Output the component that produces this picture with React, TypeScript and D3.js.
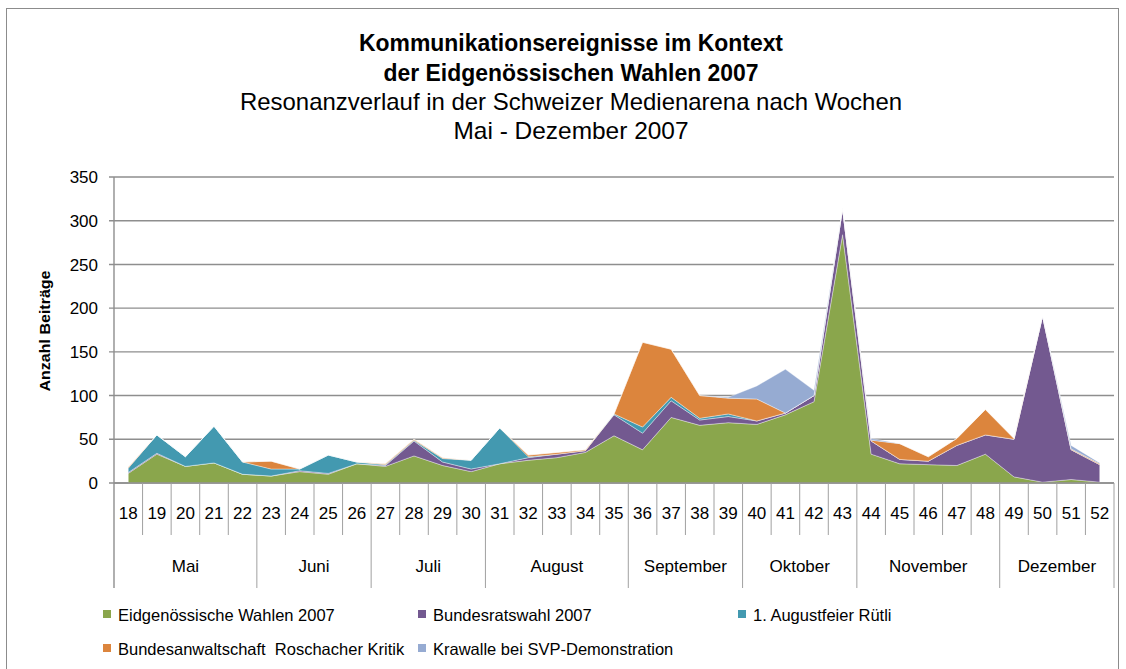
import React, { useEffect, useRef } from 'react';
import * as d3 from 'd3';

// Kalenderwochen 18-52
const weeks = [
  "18", "19", "20", "21", "22", "23", "24", "25", "26", "27", "28", "29",
  "30", "31", "32", "33", "34", "35", "36", "37", "38", "39", "40", "41",
  "42", "43", "44", "45", "46", "47", "48", "49", "50", "51", "52"
];
const monthNames = ["Mai", "Juni", "Juli", "August", "September", "Oktober", "November", "Dezember"];
const monthFirstWeek = ["18", "23", "27", "31", "36", "40", "44", "49"];
const monthLastWeek = ["22", "26", "30", "35", "39", "43", "48", "52"];

// values per week (stacked bottom to top)
const eidgWahlen = [11, 33, 19, 23, 10, 8, 13, 10, 22, 19, 31, 20, 13, 22, 26, 29, 35, 54, 38, 75, 66, 69, 67, 78, 93, 284, 33, 22, 21, 20, 33, 7, 1, 4, 1];
const bundesratswahl = [1, 1, 0, 0, 0, 0, 1, 1, 0, 1, 17, 4, 3, 0, 3, 4, 2, 24, 19, 19, 6, 7, 4, 2, 7, 30, 15, 5, 4, 23, 22, 43, 190, 34, 20];
const augustfeier = [5, 21, 11, 42, 14, 8, 2, 21, 2, 1, 1, 4, 10, 41, 1, 0, 0, 1, 7, 4, 2, 3, 0, 0, 0, 0, 0, 0, 0, 0, 0, 0, 0, 0, 0];
const bundesanwaltschaft = [1, 0, 0, 0, 0, 9, 0, 0, 0, 1, 1, 1, 0, 0, 2, 2, 1, 0, 97, 55, 26, 18, 25, 0, 0, 0, 1, 18, 5, 8, 29, 1, 0, 1, 1];
const krawalle = [0, 0, 0, 0, 0, 0, 0, 0, 0, 0, 0, 0, 0, 0, 0, 0, 0, 0, 0, 0, 0, 1, 15, 50, 6, 0, 2, 0, 0, 0, 0, 0, 0, 4, 1];

const seriesNames = [
  "Eidgenössische Wahlen 2007",
  "Bundesratswahl 2007",
  "1. Augustfeier Rütli",
  "Bundesanwaltschaft  Roschacher Kritik",
  "Krawalle bei SVP-Demonstration"
];
const seriesColors = ["#8aa64c", "#735990", "#4399b0", "#dc853d", "#96abd2"];
const yTicks = [0, 50, 100, 150, 200, 250, 300, 350];

export default function App() {
  const svgRef = useRef<SVGSVGElement>(null);

  useEffect(() => {
    if (!svgRef.current) return;
    const svg = d3.select(svgRef.current);
    svg.selectAll('*').remove();

    const left = 114, right = 1114, top = 177, bottom = 483;
    const weekRowBottom = 535, monthRowBottom = 588;
    const font = '"Liberation Sans", Arial, sans-serif';
    const narrow = '"Liberation Sans Narrow", "Liberation Sans", Arial, sans-serif';

    const x = d3.scaleBand<string>().domain(weeks).range([left, right]).padding(0);
    const cx = (w: string) => (x(w) as number) + x.bandwidth() / 2;
    const y = d3.scaleLinear().domain([0, 350]).range([bottom, top]);

    // outer frame
    svg.append("rect")
      .attr("x", 6.5).attr("y", 8.5)
      .attr("width", 1112).attr("height", 700)
      .attr("fill", "#ffffff")
      .attr("stroke", "#8c8c8c")
      .attr("stroke-width", 1);

    // titles
    const titles = [
      { text: "Kommunikationsereignisse im Kontext", y: 51, bold: true, len: 424 },
      { text: "der Eidgenössischen Wahlen 2007", y: 81, bold: true, len: 375 },
      { text: "Resonanzverlauf in der Schweizer Medienarena nach Wochen", y: 110, bold: false, len: 662 },
      { text: "Mai - Dezember 2007", y: 139, bold: false, len: 235 }
    ];
    titles.forEach(t => {
      svg.append("text")
        .attr("x", 571).attr("y", t.y)
        .attr("text-anchor", "middle")
        .attr("font-family", narrow)
        .attr("font-size", 24)
        .attr("font-weight", t.bold ? "bold" : "normal")
        .attr("textLength", t.len)
        .attr("lengthAdjust", "spacingAndGlyphs")
        .attr("fill", "#000")
        .text(t.text);
    });

    // gridlines + y ticks
    yTicks.forEach(t => {
      svg.append("line")
        .attr("x1", left - 5).attr("x2", right)
        .attr("y1", y(t)).attr("y2", y(t))
        .attr("stroke", "#8e8e8e")
        .attr("stroke-width", 1.4);
      svg.append("text")
        .attr("x", 98).attr("y", y(t))
        .attr("dy", "0.36em")
        .attr("text-anchor", "end")
        .attr("font-family", font)
        .attr("font-size", 17)
        .attr("fill", "#000")
        .text(t);
    });

    // y axis title
    svg.append("text")
      .attr("transform", "translate(50,331) rotate(-90)")
      .attr("text-anchor", "middle")
      .attr("font-family", narrow)
      .attr("font-size", 15.5)
      .attr("font-weight", "bold")
      .attr("textLength", 121)
      .attr("lengthAdjust", "spacingAndGlyphs")
      .text("Anzahl Beiträge");

    // stacked areas
    const rows = weeks.map((w, i) => ({
      week: w,
      s0: eidgWahlen[i],
      s1: bundesratswahl[i],
      s2: augustfeier[i],
      s3: bundesanwaltschaft[i],
      s4: krawalle[i]
    }));
    const keys = ["s0", "s1", "s2", "s3", "s4"];
    const stacked = d3.stack<any>().keys(keys)(rows);

    const area = d3.area<any>()
      .x(d => cx(d.data.week))
      .y0(d => y(d[0]))
      .y1(d => y(d[1]));

    stacked.forEach((s, i) => {
      svg.append("path")
        .datum(s)
        .attr("d", area as any)
        .attr("fill", seriesColors[i])
        .attr("stroke", "#ffffff")
        .attr("stroke-opacity", 0.45)
        .attr("stroke-width", 0.8)
        .attr("stroke-linejoin", "round");
    });

    // category axis: x line, y line
    svg.append("line")
      .attr("x1", left).attr("x2", right)
      .attr("y1", bottom).attr("y2", bottom)
      .attr("stroke", "#8e8e8e").attr("stroke-width", 1.4);
    svg.append("line")
      .attr("x1", left).attr("x2", left)
      .attr("y1", top).attr("y2", monthRowBottom)
      .attr("stroke", "#8e8e8e").attr("stroke-width", 1.4);

    // week separators and labels
    weeks.forEach((w, i) => {
      const isMonthEnd = monthLastWeek.includes(w);
      const xr = (x(w) as number) + x.bandwidth();
      svg.append("line")
        .attr("x1", xr).attr("x2", xr)
        .attr("y1", bottom).attr("y2", isMonthEnd ? monthRowBottom : weekRowBottom)
        .attr("stroke", "#a0a0a0").attr("stroke-width", 1);
      svg.append("text")
        .attr("x", cx(w)).attr("y", 519)
        .attr("text-anchor", "middle")
        .attr("font-family", font)
        .attr("font-size", 17)
        .attr("fill", "#000")
        .text(w);
    });

    // month labels
    monthNames.forEach((m, i) => {
      const x0 = x(monthFirstWeek[i]) as number;
      const x1 = (x(monthLastWeek[i]) as number) + x.bandwidth();
      svg.append("text")
        .attr("x", (x0 + x1) / 2).attr("y", 572)
        .attr("text-anchor", "middle")
        .attr("font-family", font)
        .attr("font-size", 17)
        .attr("fill", "#000")
        .text(m);
    });

    // legend
    const legendPos = [
      { x: 103, y: 621 }, { x: 418, y: 621 }, { x: 738, y: 621 },
      { x: 103, y: 655 }, { x: 418, y: 655 }
    ];
    seriesNames.forEach((name, i) => {
      const p = legendPos[i];
      svg.append("rect")
        .attr("x", p.x).attr("y", p.y - 11)
        .attr("width", 8).attr("height", 8)
        .attr("fill", seriesColors[i]);
      svg.append("text")
        .attr("x", p.x + 15).attr("y", p.y)
        .attr("font-family", font)
        .attr("font-size", 16.5)
        .attr("fill", "#000")
        .style("white-space", "pre")
        .text(name);
    });
  }, []);

  return (
    <svg
      ref={svgRef}
      width={1126}
      height={669}
      viewBox="0 0 1126 669"
      style={{ position: 'absolute', left: 0, top: 0, display: 'block', background: '#fff' }}
    />
  );
}
